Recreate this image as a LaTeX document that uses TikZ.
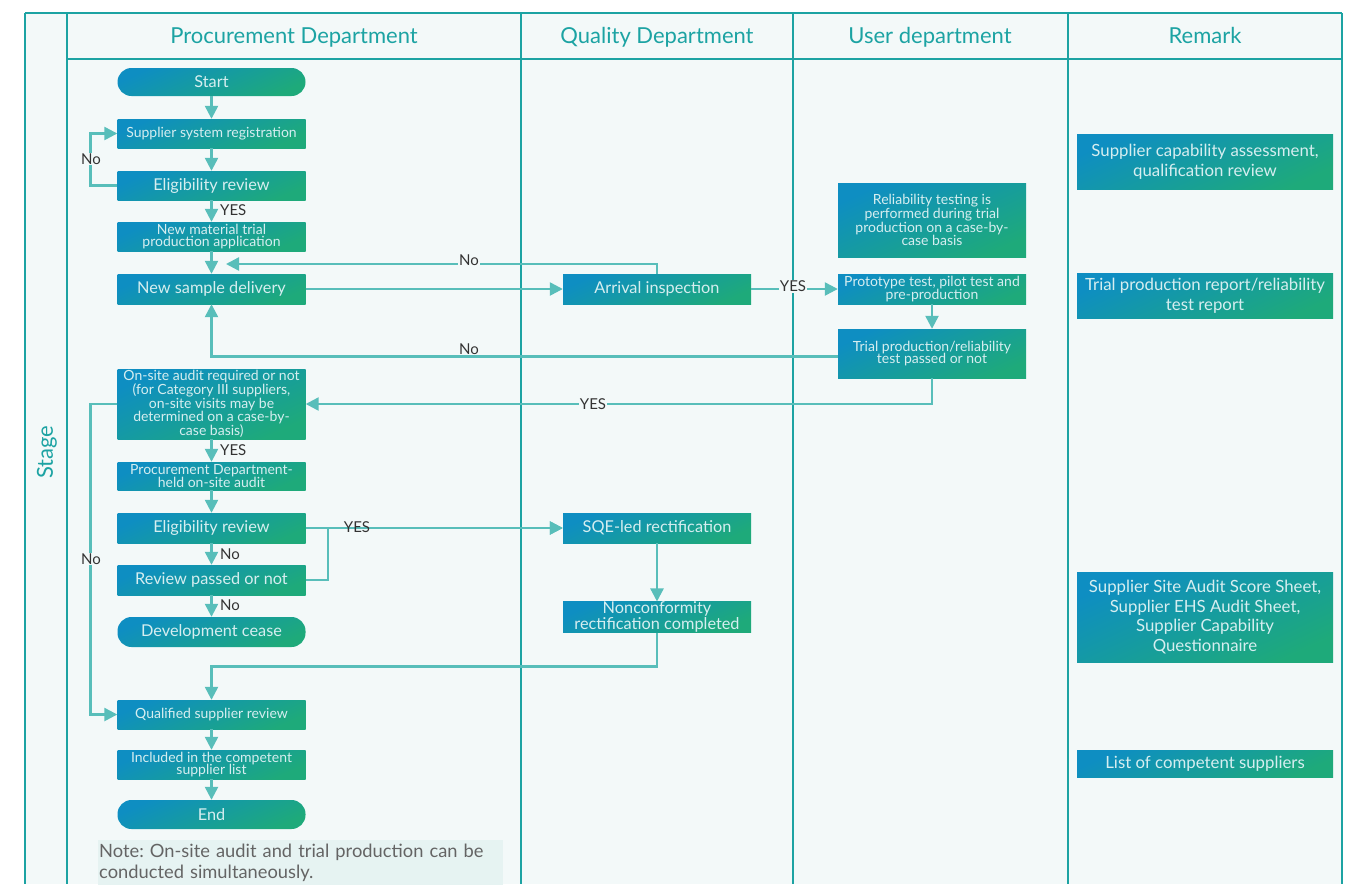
\documentclass[tikz,border=0pt]{standalone}
\usepackage{fontspec}
\setmainfont{Lato}
\usetikzlibrary{arrows.meta}
\definecolor{bg}{RGB}{243,249,249}
\definecolor{lane}{RGB}{28,163,163}
\definecolor{conn}{RGB}{88,190,186}
\definecolor{gA}{RGB}{14,142,194}
\definecolor{gB}{RGB}{30,170,122}
\definecolor{txt}{RGB}{214,238,240}
\definecolor{lbl}{RGB}{51,51,51}
\definecolor{notebg}{RGB}{230,243,242}
\definecolor{notetxt}{RGB}{100,100,100}
\newcommand{\fs}[1]{\fontsize{#1}{#1}\selectfont}
\frenchspacing

\begin{document}
\begin{tikzpicture}[x=1pt,y=-1pt,
  lanes/.style={draw=lane, line width=2.6pt},
  head/.style={text=lane, font=\fs{22}, anchor=base},
  box/.style={top color=gA, bottom color=gB, shading angle=25, text=txt,
    align=center, inner sep=0pt, minimum width=188pt, font=\fontsize{16.3}{16}\selectfont},
  small/.style={font=\fontsize{14}{12.8}\selectfont},
  pill/.style={box, rounded corners=14pt},
  rmk/.style={box, minimum width=256pt, font=\fontsize{16.8}{19.5}\selectfont},
  flow/.style={draw=conn, line width=2.4pt, -{Triangle[width=13pt,length=13pt]}},
  lab/.style={fill=bg, text=lbl, inner sep=1pt, font=\fs{15}},
]
\useasboundingbox (0,0) rectangle (1351,884);
\fill[white] (0,0) rectangle (1351,884);
\fill[bg] (25,13) rectangle (1342,884);

% swimlane frame
\draw[lanes] (25,13) -- (1342,13);
\draw[lanes] (67,59) -- (1342,59);
\foreach \x in {25,67,521,793,1068,1342}
  \draw[lanes] (\x,13) -- (\x,884);

\node[head] (hp) at (294,43) {Procurement Department};
\node[head] (hq) at (657,43) {Quality Department};
\node[head] (hu) at (930,43) {User department};
\node[head] (hr) at (1205,43) {Remark};
\node[head, anchor=center, rotate=90] (stage) at (47,452) {Stage};

% procurement department
\node[pill, minimum height=28pt] (start) at (211.5,82) {Start};
\node[box, small, minimum height=29pt] (reg) at (211.5,133.5) {Supplier system registration};
\node[box, minimum height=29pt] (elig1) at (211.5,185.5) {Eligibility review};
\node[box, small, minimum height=29pt] (newmat) at (211.5,236.5) {New material trial\\production application};
\node[box, minimum height=30pt] (nsd) at (211.5,289) {New sample delivery};
\node[box, small, minimum height=70pt] (onsite) at (211.5,404) {On-site audit required or not\\(for Category III suppliers,\\on-site visits may be\\determined on a case-by-\\case basis)};
\node[box, small, minimum height=28pt] (audit) at (211.5,476) {Procurement Department-\\held on-site audit};
\node[box, minimum height=30pt] (elig2) at (211.5,528) {Eligibility review};
\node[box, minimum height=30pt] (rp) at (211.5,580) {Review passed or not};
\node[pill, minimum height=30pt] (cease) at (211.5,632) {Development cease};
\node[box, small, minimum height=29pt] (qs) at (211.5,714.5) {Qualified supplier review};
\node[box, small, minimum height=29pt] (incl) at (211.5,764.5) {Included in the competent\\supplier list};
\node[pill, minimum height=29pt] (end) at (211.5,814.5) {End};
\node[fill=notebg, text=notetxt, anchor=north west, minimum width=405pt, minimum height=46pt,
  text width=403pt, inner sep=0pt, align=left, font=\fontsize{18.3}{21}\selectfont]
  (note) at (98,840) {Note: On-site audit and trial production can be\\conducted simultaneously.};

% quality department
\node[box, minimum height=30pt] (arr) at (657,289) {Arrival inspection};
\node[box, minimum height=30pt] (sqe) at (657,528) {SQE-led rectification};
\node[box, minimum height=30pt] (nc) at (657,617) {Nonconformity\\rectification completed};

% user department
\node[box, small, minimum height=74pt] (rel) at (932,220) {Reliability testing is\\performed during trial\\production on a case-by-\\case basis};
\node[box, small, minimum height=30pt] (proto) at (932,289) {Prototype test, pilot test and\\pre-production};
\node[box, small, minimum height=49pt] (tp) at (932,353.5) {Trial production/reliability\\test passed or not};

% remarks
\node[rmk, minimum height=55pt] (r1) at (1205,161.5) {Supplier capability assessment,\\qualification review};
\node[rmk, minimum height=45pt] (r2) at (1205,295.5) {Trial production report/reliability\\test report};
\node[rmk, minimum height=90pt] (r3) at (1205,617) {Supplier Site Audit Score Sheet,\\Supplier EHS Audit Sheet,\\Supplier Capability\\Questionnaire};
\node[rmk, minimum height=27pt] (r4) at (1205,763.5) {List of competent suppliers};

% connectors
\coordinate (join) at (226,264);
\draw[flow] (start) -- (reg);
\draw[flow] (reg) -- (elig1);
\draw[flow] (elig1.west) -- ++(-27,0) |- (reg.west);
\node[lab] (l1) at (91,159) {No};
\draw[flow] (elig1) -- (newmat);
\node[lab, anchor=west] (l2) at (219,210) {YES};
\draw[flow] (newmat) -- (nsd);
\draw[flow] (arr.north) |- (join);
\node[lab] (l3) at (469,260) {No};
\draw[flow] (nsd) -- (arr);
\draw[flow] (arr) -- (proto);
\node[lab] (l4) at (793,286) {YES};
\draw[flow] (proto) -- (tp);
\draw[flow] ([yshift=-3pt]tp.west) -| (nsd.south);
\node[lab] (l5) at (469,349) {No};
\draw[flow] (tp.south) |- (onsite.east);
\node[lab] (l6) at (593,404) {YES};
\draw[flow] (onsite) -- (audit);
\node[lab, anchor=west] (l7) at (219,450) {YES};
\draw[flow] (onsite.west) -- ++(-27,0) |- (qs.west);
\node[lab] (l8) at (91,559) {No};
\draw[flow] (audit) -- (elig2);
\draw[flow] (elig2) -- (rp);
\node[lab, anchor=west] (l9) at (219,554) {No};
\draw[flow] (rp.east) -- ++(22,0) |- (sqe.west);
\draw[flow] (elig2) -- (sqe);
\node[lab, fill=none] (l10) at (357,527) {YES};
\draw[flow] (rp) -- (cease);
\node[lab, anchor=west] (l11) at (219,605) {No};
\draw[flow] (sqe) -- (nc);
\draw[flow] (nc.south) -- ++(0,34) -| (qs.north);
\draw[flow] (qs) -- (incl);
\draw[flow] (incl) -- (end);
\end{tikzpicture}
\end{document}
